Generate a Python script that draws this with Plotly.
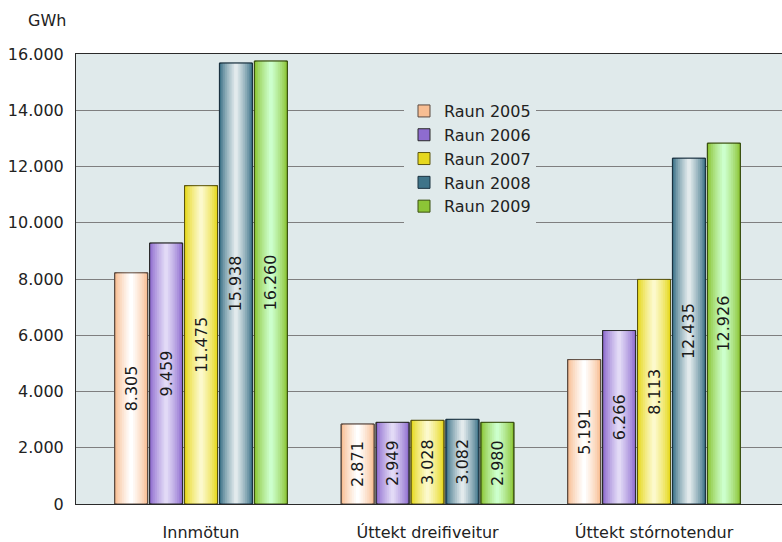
import plotly.graph_objects as go

categories = ["Innmötun", "Úttekt dreifiveitur", "Úttekt stórnotendur"]
series_names = ["Raun 2005", "Raun 2006", "Raun 2007", "Raun 2008", "Raun 2009"]

# printed value labels (GWh)
labels_2005 = [8305, 2871, 5191]
labels_2006 = [9459, 2949, 6266]
labels_2007 = [11475, 3028, 8113]
labels_2008 = [15938, 3082, 12435]
labels_2009 = [16260, 2980, 12926]

# bar heights as drawn in the picture (GWh)
heights_2005 = [8219, 2842, 5135]
heights_2006 = [9277, 2902, 6168]
heights_2007 = [11318, 2974, 7984]
heights_2008 = [15677, 3009, 12293]
heights_2009 = [15748, 2902, 12828]

y_ticks = [0, 2000, 4000, 6000, 8000, 10000, 12000, 14000, 16000]
unit_label = "GWh"

labels = [labels_2005, labels_2006, labels_2007, labels_2008, labels_2009]
heights = [heights_2005, heights_2006, heights_2007, heights_2008, heights_2009]

edge_colors = ["#F8BE93", "#8E6CCF", "#E6D81E", "#3F7489", "#8CC536"]
center_colors = ["#FFFFFF", "#E2DAF6", "#FCF9CC", "#E2EAEC", "#CCFFCC"]
outline_colors = ["#5a4a40", "#2a2a2a", "#5a5410", "#1b3240", "#3a5010"]


def hex_to_rgb(h):
    h = h.lstrip("#")
    return tuple(int(h[i:i + 2], 16) for i in (0, 2, 4))


def mix(c1, c2, t):
    a, b = hex_to_rgb(c1), hex_to_rgb(c2)
    return "rgb(%d,%d,%d)" % tuple(round(a[i] + (b[i] - a[i]) * t) for i in range(3))


group_w = 0.771
slot = group_w / len(series_names)
bar_w = 0.1457
K = 9

fig = go.Figure()
for s, name in enumerate(series_names):
    center_off = -group_w / 2 + slot * (s + 0.5)
    for k in range(K):
        frac = 1 - k / K
        w = bar_w * frac
        col = mix(edge_colors[s], center_colors[s], (k / (K - 1)) ** 0.8)
        fig.add_trace(go.Bar(
            x=categories, y=heights[s], name=name,
            width=w, offset=center_off - w / 2,
            marker=dict(color=col,
                        line=dict(color=outline_colors[s], width=1 if k == 0 else 0)),
            showlegend=(k == 0), legendgroup=name,
            hoverinfo="skip",
        ))
    fig.add_trace(go.Bar(
        x=categories, y=heights[s], name=name,
        width=bar_w, offset=center_off - bar_w / 2,
        marker=dict(color="rgba(0,0,0,0)", line=dict(color=outline_colors[s], width=1)),
        text=["{:,}".format(v).replace(",", ".") for v in labels[s]],
        textposition="inside", insidetextanchor="middle", textangle=-90,
        textfont=dict(family="DejaVu Sans", size=16, color="#1a1a1a"),
        showlegend=False, legendgroup=name, hoverinfo="skip",
    ))

fig.update_layout(
    width=782, height=542,
    margin=dict(l=76, r=0, t=54, b=38, pad=0),
    paper_bgcolor="white",
    plot_bgcolor="#E0EAEB",
    barmode="overlay",
    separators=",.",
    font=dict(family="DejaVu Sans", size=16, color="#222222"),
    showlegend=True,
    legend=dict(
        x=(404 - 76) / 706, y=1 - (94 - 54) / 449.5,
        xanchor="left", yanchor="top",
        bgcolor="#E0EAEB", borderwidth=0,
        font=dict(family="DejaVu Sans", size=16, color="#222222"),
        tracegroupgap=0, traceorder="normal",
    ),
    xaxis=dict(
        range=[-0.552, 2.565],
        showline=True, linecolor="#2a2a2a", linewidth=1, mirror=True,
        showgrid=False, ticks="", ticklabelstandoff=14,
        tickfont=dict(family="DejaVu Sans", size=16, color="#222222"),
        fixedrange=True, automargin=False,
    ),
    yaxis=dict(
        range=[0, 16000], tickvals=y_ticks, tickformat=",",
        showline=True, linecolor="#2a2a2a", linewidth=1,
        showgrid=True, gridcolor="#7f7f7f", gridwidth=1,
        zeroline=False, ticks="", ticklabelstandoff=8,
        tickfont=dict(family="DejaVu Sans", size=16, color="#222222"),
        fixedrange=True, automargin=False,
    ),
    annotations=[dict(
        text=unit_label, xref="paper", yref="paper",
        x=(47 - 76) / 706, y=1 + (54 - 21) / 449.5,
        xanchor="center", yanchor="middle", showarrow=False,
        font=dict(family="DejaVu Sans", size=16, color="#222222"),
    )],
)

fig.write_html(
    "out.html",
    config={"displayModeBar": False},
    post_script="document.body.style.margin='0';document.body.style.overflow='hidden';",
)
